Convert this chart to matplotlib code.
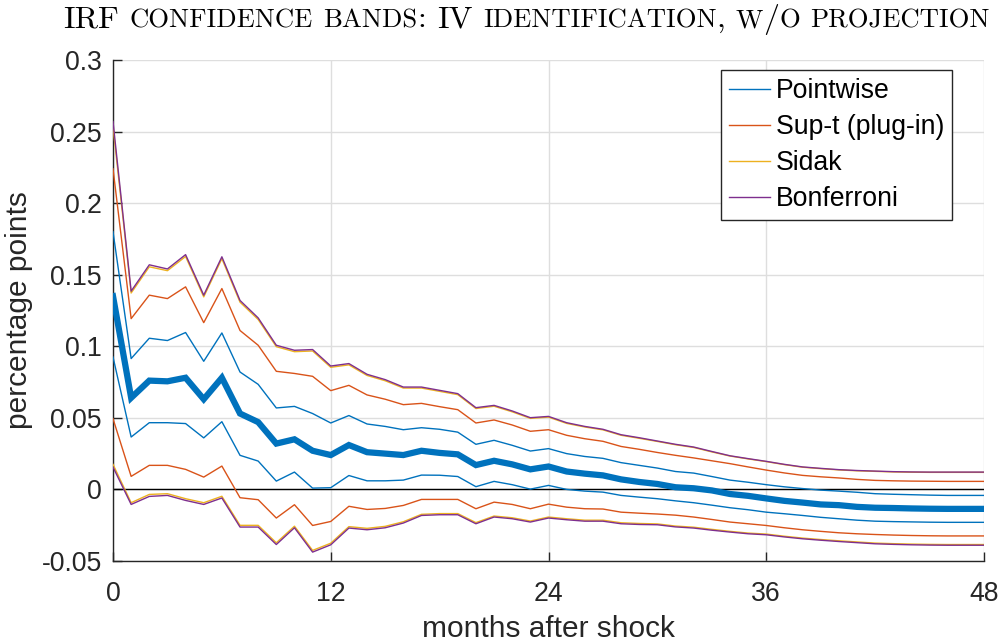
import matplotlib
matplotlib.use('Agg')
import matplotlib.pyplot as plt
import numpy as np

plt.rcParams['font.family'] = ['Liberation Sans', 'DejaVu Sans']

# --- data (horizon in months) ---
months = list(range(49))

irf = [0.135, 0.064, 0.076, 0.0755, 0.078, 0.063, 0.078, 0.053, 0.047, 0.032,
       0.035, 0.027, 0.024, 0.031, 0.026, 0.025, 0.024, 0.027, 0.0255, 0.0245,
       0.017, 0.020, 0.0175, 0.014, 0.016, 0.0125, 0.011, 0.0098, 0.007, 0.0052,
       0.0038, 0.0015, 0.0008, -0.0007, -0.0032, -0.0045, -0.0063, -0.008, -0.0092, -0.0105,
       -0.011, -0.0122, -0.0128, -0.013, -0.0133, -0.0135, -0.0136, -0.0136, -0.0136]

pw_hi = [0.180, 0.0914, 0.1056, 0.104, 0.1096, 0.0895, 0.1093, 0.082, 0.0734, 0.0569,
         0.058, 0.053, 0.0464, 0.0516, 0.0457, 0.044, 0.0417, 0.0431, 0.042, 0.040,
         0.0315, 0.0343, 0.0308, 0.0268, 0.0285, 0.025, 0.023, 0.0217, 0.0187, 0.0168,
         0.0149, 0.0125, 0.0114, 0.009, 0.0065, 0.005, 0.0033, 0.0018, 0.0006, -0.0005,
         -0.0012, -0.002, -0.003, -0.0034, -0.0037, -0.004, -0.0042, -0.0042, -0.0042]
pw_lo = [0.0925, 0.0366, 0.0466, 0.0466, 0.046, 0.036, 0.0473, 0.0238, 0.0198, 0.0058,
         0.0121, 0.0009, 0.0012, 0.0097, 0.006, 0.006, 0.0065, 0.010, 0.0099, 0.009,
         0.0019, 0.0056, 0.0033, 0.0002, 0.0028, 0.0, -0.0012, -0.0019, -0.0042, -0.0054,
         -0.0065, -0.008, -0.0093, -0.011, -0.0128, -0.0142, -0.0159, -0.017, -0.0182, -0.0195,
         -0.0205, -0.0215, -0.0222, -0.0225, -0.0227, -0.0229, -0.023, -0.023, -0.023]

supt_hi = [0.224, 0.1193, 0.1357, 0.1333, 0.1415, 0.1165, 0.1403, 0.111, 0.1007, 0.0825,
           0.081, 0.079, 0.069, 0.0727, 0.066, 0.063, 0.0592, 0.0601, 0.0578, 0.0557,
           0.0464, 0.0485, 0.045, 0.0406, 0.0417, 0.0378, 0.0354, 0.0336, 0.030, 0.028,
           0.0258, 0.0238, 0.022, 0.020, 0.018, 0.0157, 0.0135, 0.0115, 0.0098, 0.0088,
           0.008, 0.007, 0.0063, 0.006, 0.0058, 0.0057, 0.0056, 0.0056, 0.0056]
supt_lo = [0.0494, 0.0091, 0.0168, 0.0168, 0.014, 0.0086, 0.0163, -0.0058, -0.0072, -0.020,
           -0.0107, -0.0252, -0.0224, -0.0118, -0.014, -0.0133, -0.0112, -0.007, -0.007, -0.007,
           -0.0135, -0.0089, -0.0105, -0.0135, -0.0103, -0.0124, -0.0135, -0.0137, -0.0159, -0.0166,
           -0.0172, -0.018, -0.0193, -0.021, -0.0228, -0.024, -0.0252, -0.0268, -0.0282, -0.0293,
           -0.0303, -0.031, -0.0315, -0.0319, -0.0322, -0.0324, -0.0325, -0.0325, -0.0325]

sidak_hi = [0.2535, 0.1372, 0.1555, 0.1528, 0.1627, 0.1345, 0.1612, 0.1308, 0.1187, 0.0997,
            0.0962, 0.0967, 0.0853, 0.087, 0.0796, 0.0759, 0.0708, 0.0708, 0.0685, 0.0662,
            0.0565, 0.0581, 0.0542, 0.0496, 0.0505, 0.0461, 0.0436, 0.0416, 0.0378, 0.0357,
            0.0335, 0.0312, 0.0293, 0.0262, 0.0233, 0.0213, 0.0194, 0.0173, 0.0155, 0.0145,
            0.0136, 0.013, 0.0126, 0.0122, 0.012, 0.0119, 0.0119, 0.0119, 0.0119]
sidak_lo = [0.0175, -0.0093, -0.0035, -0.003, -0.0065, -0.0093, -0.0048, -0.0251, -0.0251, -0.0373,
            -0.0257, -0.0426, -0.0376, -0.026, -0.0272, -0.0258, -0.0226, -0.0174, -0.0169, -0.0169,
            -0.0232, -0.0186, -0.0198, -0.0221, -0.0193, -0.0205, -0.0215, -0.0215, -0.0233, -0.0238,
            -0.0241, -0.0256, -0.0264, -0.0279, -0.0293, -0.0305, -0.0312, -0.0327, -0.034, -0.035,
            -0.0359, -0.0367, -0.0375, -0.0379, -0.0382, -0.0384, -0.0385, -0.0385, -0.0385]

bonf_hi = [0.257, 0.1385, 0.1569, 0.154, 0.164, 0.1357, 0.1625, 0.132, 0.1198, 0.1007,
           0.0972, 0.0977, 0.0862, 0.0879, 0.0804, 0.0767, 0.0715, 0.0715, 0.0692, 0.0669,
           0.0571, 0.0587, 0.0548, 0.0501, 0.051, 0.0466, 0.044, 0.042, 0.0382, 0.0361,
           0.0338, 0.0315, 0.0296, 0.0265, 0.0235, 0.0215, 0.0196, 0.0175, 0.0157, 0.0147,
           0.0138, 0.0132, 0.0128, 0.0124, 0.0122, 0.0121, 0.0121, 0.0121, 0.0121]
bonf_lo = [0.0156, -0.0105, -0.0049, -0.0042, -0.0077, -0.0105, -0.006, -0.0263, -0.0263, -0.0385,
           -0.0268, -0.0438, -0.0387, -0.027, -0.0282, -0.0268, -0.0235, -0.0182, -0.0177, -0.0177,
           -0.024, -0.0193, -0.0205, -0.0228, -0.020, -0.0212, -0.0222, -0.0222, -0.024, -0.0245,
           -0.0247, -0.0262, -0.027, -0.0285, -0.0298, -0.031, -0.0317, -0.0332, -0.0345, -0.0355,
           -0.0364, -0.0372, -0.038, -0.0384, -0.0387, -0.0389, -0.039, -0.039, -0.039]

band_names = ['Pointwise', 'Sup-t (plug-in)', 'Sidak', 'Bonferroni']
x_ticks = [0, 12, 24, 36, 48]
y_ticks = [-0.05, 0, 0.05, 0.1, 0.15, 0.2, 0.25, 0.3]
y_ticklabels = ['-0.05', '0', '0.05', '0.1', '0.15', '0.2', '0.25', '0.3']
title_str = 'IRF confidence bands: IV identification, w/o projection'

# MATLAB default colour order
c_blue, c_orange, c_yellow, c_purple = '#0072BD', '#D95319', '#EDB120', '#7E2F8E'
AX_COL = '#262626'

W, H = 1000, 642
fig = plt.figure(figsize=(W / 100, H / 100), dpi=100)
ax = fig.add_axes([0.113, 0.1262, 0.871, 0.7804])

ax.axhline(0, color='black', lw=1.0, zorder=2)

thin = 1.0
bands = [(pw_lo, pw_hi, c_blue), (supt_lo, supt_hi, c_orange),
         (sidak_lo, sidak_hi, c_yellow), (bonf_lo, bonf_hi, c_purple)]
handles = []
for lo, hi, col in bands:
    h, = ax.plot(months, hi, color=col, lw=thin, zorder=3)
    ax.plot(months, lo, color=col, lw=thin, zorder=3)
    handles.append(h)
ax.plot(months, irf, color=c_blue, lw=4.5, zorder=4, solid_joinstyle='miter')

ax.set_xlim(0, 48)
ax.set_ylim(-0.05, 0.3)
ax.set_xticks(x_ticks)
ax.set_yticks(y_ticks)
ax.set_yticklabels(y_ticklabels)

ax.grid(True, color='#dedede', lw=1.0, zorder=0)
ax.set_axisbelow(True)
for side in ['top', 'right']:
    ax.spines[side].set_visible(False)
for side in ['left', 'bottom']:
    ax.spines[side].set_color(AX_COL)
    ax.spines[side].set_linewidth(1.0)
ax.tick_params(direction='in', length=6.5, width=1.0, color=AX_COL,
               labelcolor=AX_COL, labelsize=19.2)
ax.tick_params(axis='x', pad=14.5)
ax.tick_params(axis='y', pad=8)

ax.set_xlabel('months after shock', fontsize=21.5, color=AX_COL, labelpad=6)
ax.set_ylabel('percentage points', fontsize=21.5, color=AX_COL, labelpad=6)

leg = ax.legend(handles, band_names, loc='upper right', bbox_to_anchor=(0.9633, 0.980),
                borderaxespad=0, fontsize=19.2, handlelength=1.55, handletextpad=0.2,
                labelspacing=0.38, borderpad=0.3, fancybox=False, framealpha=1)
leg.get_frame().set_edgecolor(AX_COL)
leg.get_frame().set_linewidth(1.0)
for t in leg.get_texts():
    t.set_color('black')

# --- small-caps title built from word pieces (LaTeX \textsc look) ---
renderer = fig.canvas.get_renderer()
BIG = 22.9
TITLE_FONT = 'cmr10'


def text_w(s, size):
    t = fig.text(0, 0, s, fontsize=size, family=TITLE_FONT)
    w = t.get_window_extent(renderer).width
    t.remove()
    return w


def split_runs(word):
    runs = []
    for ch in word:
        small = ch.isalpha() and ch.islower()
        if runs and runs[-1][1] == small:
            runs[-1][0] += ch
        else:
            runs.append([ch, small])
    return [(s.upper() if sm else s, sm) for s, sm in runs]


words = [split_runs(w) for w in title_str.split(' ')]
space_w = text_w('I I', BIG) - text_w('II', BIG)
big_w = sum(text_w(s, BIG) for w in words for s, sm in w if not sm)
small_w = sum(text_w(s, BIG) for w in words for s, sm in w if sm)
x_left, x_right = 63, 988
ratio = (x_right - x_left - big_w - space_w * (len(words) - 1)) / small_w
ratio = min(max(ratio, 0.68), 0.85)

x_cur = x_left
base_y = 1 - 27 / H
for wi, w in enumerate(words):
    for s, sm in w:
        size = BIG * ratio if sm else BIG
        fig.text(x_cur / W, base_y, s, fontsize=size, family=TITLE_FONT,
                 va='baseline', ha='left', color='black')
        x_cur += text_w(s, size)
    x_cur += space_w

fig.savefig('out.png', dpi=100)
